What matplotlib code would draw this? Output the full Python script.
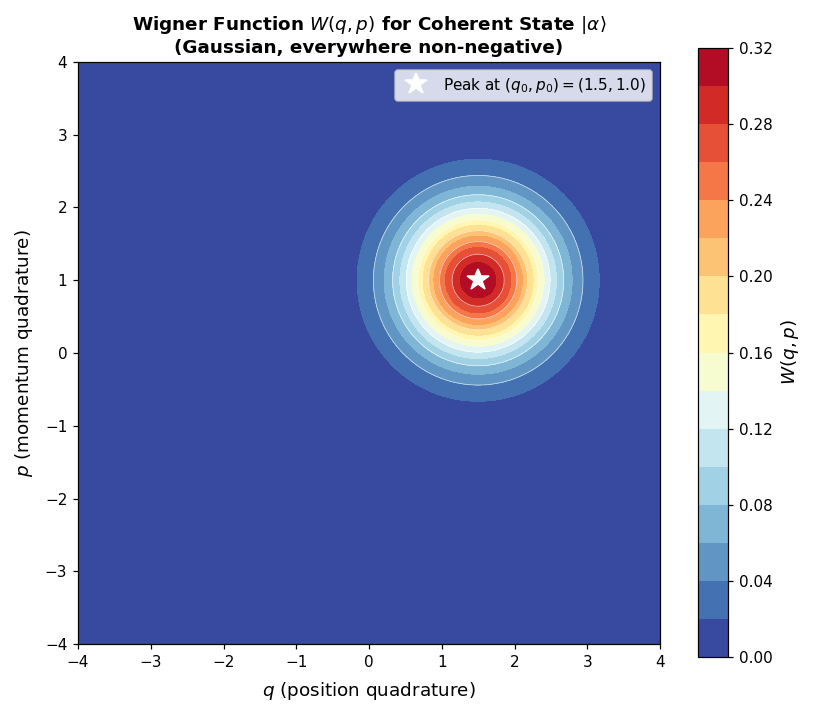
import numpy as np
import matplotlib
matplotlib.use("Agg")
import matplotlib.pyplot as plt

# Coherent state parameters
q0, p0 = 1.5, 1.0
q_range = [-4, 4]
p_range = [-4, 4]
n_grid = 200

q = np.linspace(q_range[0], q_range[1], n_grid)
p = np.linspace(p_range[0], p_range[1], n_grid)
Q, P = np.meshgrid(q, p)
W = np.exp(-(Q - q0) ** 2 - (P - p0) ** 2) / np.pi

DPI = 110
fig = plt.figure(figsize=(817 / DPI, 715 / DPI), dpi=DPI)
ax = fig.add_axes([0.0955, 0.0979, 0.7124, 0.8168])
cax = fig.add_axes([0.8543, 0.0811, 0.0367, 0.8517])

cf = ax.contourf(Q, P, W, levels=20, cmap="RdYlBu_r")
ax.contour(Q, P, W, levels=8, colors="white", linewidths=0.5, alpha=0.7)
ax.plot(q0, p0, "*", color="white", markersize=15,
        label=r"Peak at $(q_0, p_0) = (1.5, 1.0)$")

ax.set_xlim(q_range)
ax.set_ylim(p_range)
ax.set_aspect("equal")
ax.set_xlabel(r"$q$ (position quadrature)", fontsize=12, labelpad=6.5)
ax.set_ylabel(r"$p$ (momentum quadrature)", fontsize=12, labelpad=6.5)
ax.set_title("Wigner Function $W(q,p)$ for Coherent State $|\\alpha\\rangle$\n"
             "(Gaussian, everywhere non-negative)",
             fontsize=12, fontweight="bold")
ax.legend(loc="upper right", fontsize=10)

cb = fig.colorbar(cf, cax=cax)
cb.set_label(r"$W(q,p)$", fontsize=12)

plt.savefig("out.png", dpi=DPI)
